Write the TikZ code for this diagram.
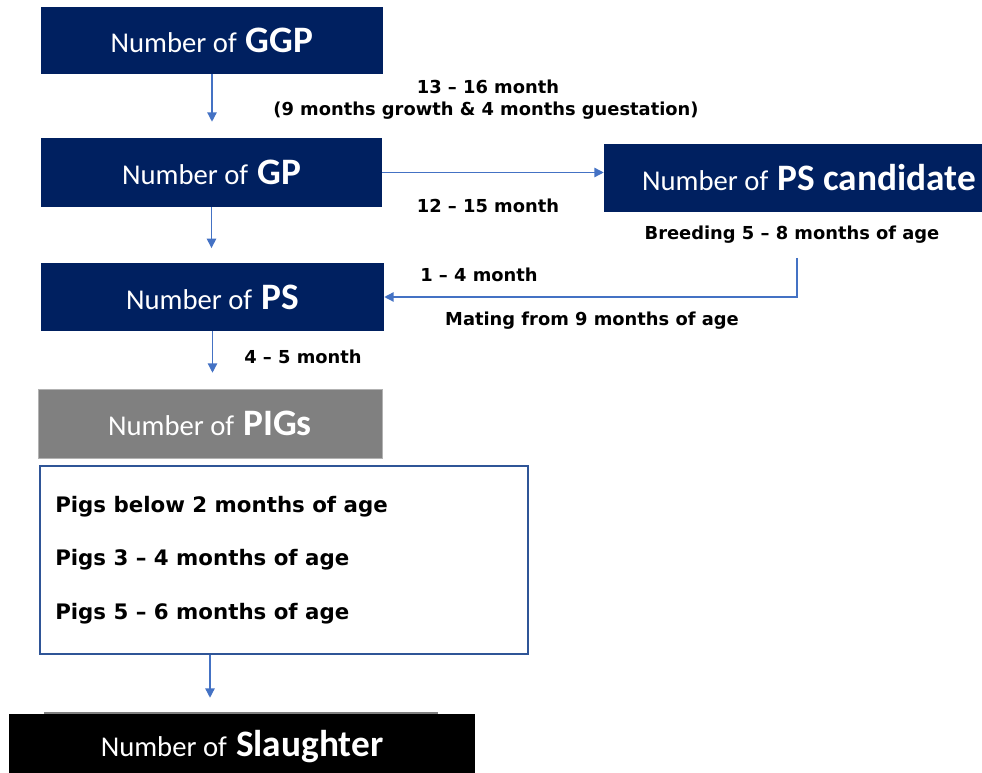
\documentclass[tikz,border=0pt]{standalone}
\usepackage{fontspec}
\setmainfont{Carlito}
\newfontfamily\labfont[Ligatures=TeX]{DejaVu Sans}
\usetikzlibrary{arrows.meta,calc}
\definecolor{navy}{HTML}{002060}
\definecolor{arrowblue}{HTML}{4472C4}
\definecolor{listblue}{HTML}{2F5597}
\newcommand\bigname[1]{\hspace{2pt}{\fontsize{28}{30}\selectfont\bfseries #1}}

\begin{document}
\begin{tikzpicture}[x=0.75pt,y=-0.75pt,
	box/.style={inner sep=0pt,text=white,font=\fontsize{21.5}{24}\selectfont},
	navybox/.style={box,fill=navy},
	lab/.style={inner sep=0pt,font=\labfont\fontsize{13.4}{15}\selectfont\bfseries},
	flow/.style={draw=arrowblue,line width=1pt,-{Triangle[width=7pt,length=7pt]}}]
\useasboundingbox (0,0) rectangle (982,773);
% boxes
\node[navybox,minimum width=256.5pt,minimum height=50.25pt] (ggp) at (212,40.5) {Number of \bigname{GGP}};
\node[navybox,minimum width=255.75pt,minimum height=51.75pt] (gp) at (211.5,172.5) {Number of \bigname{GP}};
\node[navybox,minimum width=307.5pt,minimum height=51pt] (psc) at (809,178) {Number of \bigname{PS candidate}};
\node[navybox,minimum width=257.25pt,minimum height=51pt] (ps) at (212.5,297) {Number of \bigname{PS}};
\node[box,fill=gray,draw=gray!60,minimum width=258pt,minimum height=51.75pt] (pigs) at (210,423.5) {Number of \bigname{PIGs}};
\node[draw=listblue,line width=0.8pt,minimum width=366pt,minimum height=141pt] (ages) at (284,560) {};
\foreach \t [count=\i] in {Pigs below 2 months of age,Pigs 3 -- 4 months of age,Pigs 5 -- 6 months of age}
	\node[lab,anchor=west,font=\labfont\fontsize{16}{19}\selectfont\bfseries] (age\i) at (55,453+53.5*\i) {\t};
\draw[gray,line width=2pt] (44,713) -- (438,713);
\node[box,fill=black,minimum width=349.5pt,minimum height=49.5pt] (slaughter) at (242,747) {Number of \bigname{Slaughter}};
% labels
\node[lab] (l1) at (488,87) {13 -- 16 month};
\node[lab] (l2) at (486,111) {(9 months growth \& 4 months guestation)};
\node[lab] (l3) at (488,206) {12 -- 15 month};
\node[lab] (l4) at (792,235) {Breeding 5 -- 8 months of age};
\node[lab] (l5) at (479,275) {1 -- 4 month};
\node[lab] (l6) at (592,321) {Mating from 9 months of age};
\node[lab] (l7) at (303,357) {4 -- 5 month};
% arrows
\coordinate (brk) at (797,258);
\draw[flow,shorten >=12pt] (ggp.south) -- (ggp.south |- gp.north);
\draw[flow,shorten >=11pt] (gp.south) -- (gp.south |- ps.north);
\draw[flow,shorten >=12pt] (ps.south) -- (ps.south |- pigs.north);
\draw[flow,shorten >=12pt] (ages.south -| pigs.south) -- (pigs.south |- slaughter.north);
\draw[flow] (gp.east) -- (gp.east -| psc.west);
\draw[flow] (brk) |- (ps.east);
\end{tikzpicture}
\end{document}
